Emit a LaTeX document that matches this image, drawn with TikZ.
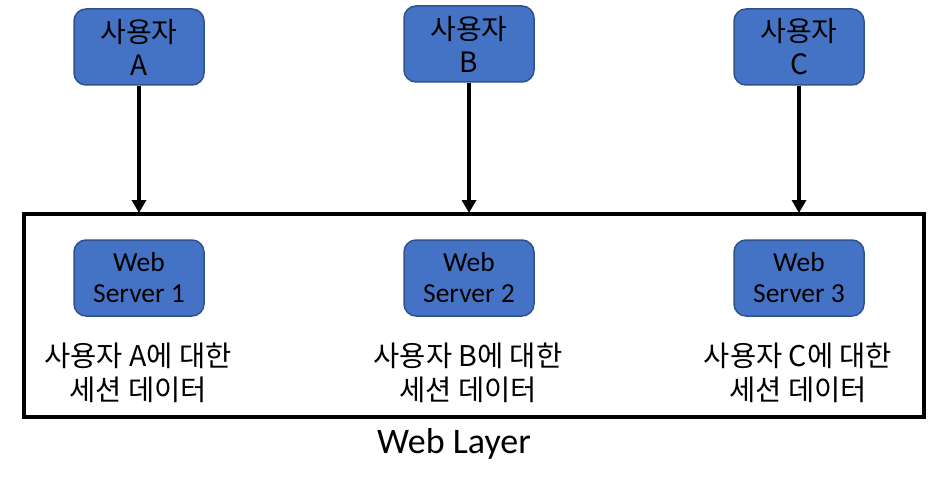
\documentclass[tikz,border=0pt]{standalone}
\usepackage{fontspec}
\setmainfont{Carlito}
\newfontfamily\kr{Noto Sans CJK KR}
\usetikzlibrary{arrows.meta}
\definecolor{boxblue}{HTML}{4472C4}
\definecolor{boxedge}{HTML}{2F528F}
\begin{document}
\begin{tikzpicture}[x=1pt,y=-1pt,
  userbox/.style={draw=boxedge,line width=1.5pt,fill=boxblue,rounded corners=12pt,
    minimum width=130pt,minimum height=76pt,inner sep=0pt,align=center,
    font=\kr\fontsize{28}{33}\selectfont},
  serverbox/.style={draw=boxedge,line width=1.5pt,fill=boxblue,rounded corners=12pt,
    minimum width=130pt,minimum height=76pt,inner sep=0pt,align=center,
    font=\fontsize{27.5}{31}\selectfont},
  datatext/.style={align=center,inner sep=0pt,font=\kr\fontsize{28.5}{34}\selectfont},
  conn/.style={line width=4.5pt,-{Triangle[width=14pt,length=13pt]}}]
\useasboundingbox (0,0) rectangle (950,492);
\node[draw,line width=4.5pt,minimum width=900pt,minimum height=203pt,inner sep=0pt] (layer) at (474,315.5) {};
\node[userbox] (ua) at (139,47) {사용자\\A};
\node[userbox] (ub) at (469,44) {사용자\\B};
\node[userbox] (uc) at (799,47) {사용자\\C};
\coordinate (ta) at (139,213);
\coordinate (tb) at (469,213);
\coordinate (tc) at (799,213);
\draw[conn] (ua.south) -- (ta);
\draw[conn] (ub.south) -- (tb);
\draw[conn] (uc.south) -- (tc);
\node[serverbox] (s1) at (139,278) {Web\\Server 1};
\node[serverbox] (s2) at (469,278) {Web\\Server 2};
\node[serverbox] (s3) at (799,278) {Web\\Server 3};
\node[datatext] (d1) at (138,373) {사용자 A에 대한\\세션 데이터};
\node[datatext] (d2) at (468,373) {사용자 B에 대한\\세션 데이터};
\node[datatext] (d3) at (798,373) {사용자 C에 대한\\세션 데이터};
\node[inner sep=0pt,font=\fontsize{36}{40}\selectfont] (wl) at (454,444) {Web Layer};
\end{tikzpicture}
\end{document}
